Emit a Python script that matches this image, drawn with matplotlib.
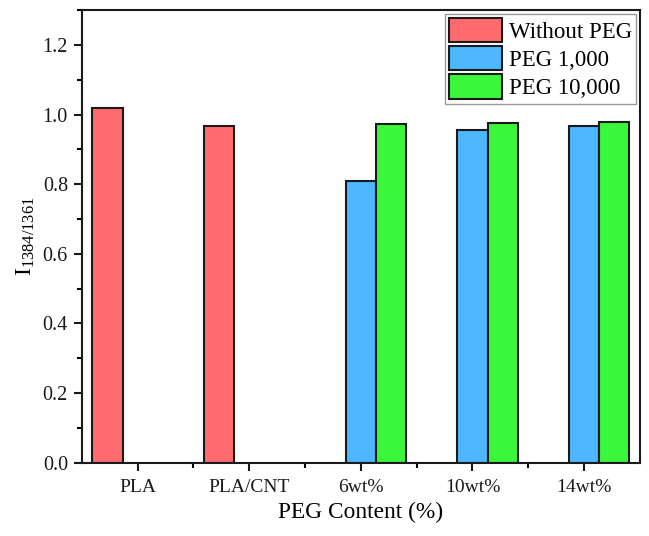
import numpy as np
import matplotlib
matplotlib.use("Agg")
import matplotlib.pyplot as plt
from matplotlib.ticker import MultipleLocator

categories = ["PLA", "PLA/CNT", "6wt%", "10wt%", "14wt%"]
without_peg = [1.020, 0.967, np.nan, np.nan, np.nan]
peg_1000 = [np.nan, np.nan, 0.808, 0.957, 0.967]
peg_10000 = [np.nan, np.nan, 0.973, 0.977, 0.980]
series_labels = ["Without PEG", "PEG 1,000", "PEG 10,000"]
colors = ["#FF6B6E", "#4DB8FF", "#3BF73B"]

plt.rcParams['font.family'] = ['Liberation Serif', 'DejaVu Serif']
plt.rcParams['mathtext.fontset'] = 'custom'
plt.rcParams['mathtext.rm'] = 'Liberation Serif'
plt.rcParams['mathtext.it'] = 'Liberation Serif'

fig = plt.figure(figsize=(6.49, 5.36), dpi=100)
ax = fig.add_axes([0.126, 0.137, 0.860, 0.844])

x = np.arange(len(categories))
w = 0.27
for i, (vals, lab, c) in enumerate(zip([without_peg, peg_1000, peg_10000], series_labels, colors)):
    ax.bar(x + (i - 1) * w, vals, width=w, color=c, edgecolor="#1a1a1a", linewidth=1.5, label=lab)

ax.set_xlim(-0.5, 4.5)
ax.set_ylim(0, 1.3)
ax.set_xticks(x)
ax.set_xticklabels(categories)
ax.set_xticks(x[:-1] + 0.5, minor=True)
ax.yaxis.set_major_locator(MultipleLocator(0.2))
ax.yaxis.set_minor_locator(MultipleLocator(0.1))
ax.yaxis.set_major_formatter(matplotlib.ticker.FormatStrFormatter('%.1f'))

for s in ax.spines.values():
    s.set_linewidth(1.5)
    s.set_color("#1a1a1a")
ax.tick_params(axis='both', which='major', direction='out', length=6, width=1.5, colors="#1a1a1a")
ax.tick_params(axis='both', which='minor', direction='out', length=3.5, width=1.5)
ax.tick_params(axis='y', which='major', labelsize=14.5, pad=4)
ax.tick_params(axis='x', which='major', labelsize=14, pad=6)

ax.set_xlabel("PEG Content (%)", fontsize=16.8, labelpad=4)
ax.set_ylabel(r"I$_{\mathrm{1384/1361}}$", fontsize=17, labelpad=4)

leg = ax.legend(loc="upper right", fontsize=16.5, fancybox=False, edgecolor="#999999",
                framealpha=1, handlelength=2.3, handleheight=1.25, labelspacing=0.14,
                handletextpad=0.3, borderpad=0.2, borderaxespad=0.15)
leg.get_frame().set_linewidth(1.0)

fig.savefig("out.png", dpi=100)
